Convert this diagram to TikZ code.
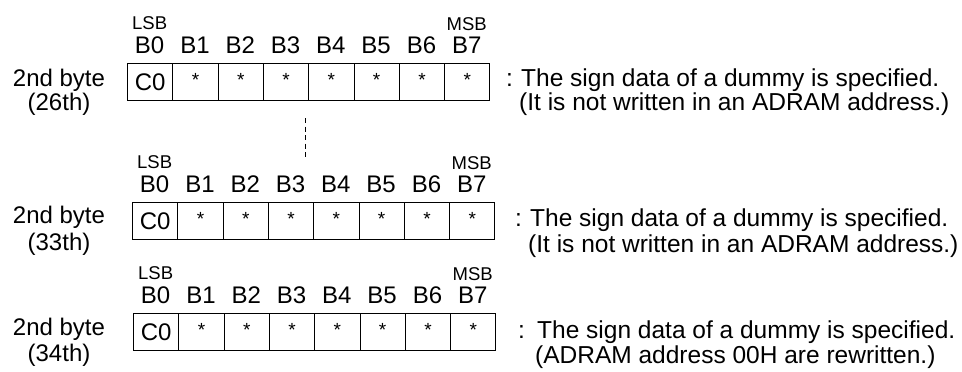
\documentclass[tikz,border=0pt]{standalone}
\usepackage{fontspec}
\setmainfont{Liberation Sans}
\usetikzlibrary{positioning}
\tikzset{
  cell/.style={draw, line width=1pt, minimum width=45.3pt, minimum height=37pt, inner sep=0pt, anchor=north west, font=\fontsize{24}{24}\selectfont},
  bitlbl/.style={inner sep=0pt, font=\fontsize{24}{24}\selectfont},
  endlbl/.style={inner sep=0pt, font=\fontsize{18.5}{18.5}\selectfont},
  bytelbl/.style={inner sep=0pt, align=center},
  desc/.style={inner sep=0pt, anchor=west, font=\fontsize{24.5}{24.5}\selectfont},
  dashline/.style={line width=1pt, dash pattern=on 5pt off 3.5pt}
}
\begin{document}
\begin{tikzpicture}[x=1pt,y=-1pt]
\useasboundingbox (0,0) rectangle (962,372);
% three byte rows
\foreach \r/\xl/\yt/\nth/\sk in {1/127/63/26th/24,2/132/202/33th/27,3/133/313/34th/26}{
  \foreach \i in {0,...,7}{
    \node[cell] (c\r\i) at ({\xl+\i*45.3},\yt) {\ifnum\i=0 C0\else\raisebox{4pt}{\fontsize{19}{19}\selectfont *}\fi};
    \node[bitlbl] (b\r\i) at ({\xl+(\i+0.5)*45.3},\yt-18) {B\i};
  }
  \node[endlbl, above=6pt of b\r0] (lsb\r) {LSB};
  \node[endlbl, above=6pt of b\r7] (msb\r) {MSB};
  \node[bytelbl, font=\fontsize{24}{\sk}\selectfont] (n\r) at (59,\yt+29) {2nd byte\\(\nth)};
}
% notes
\node[desc] (col1) at (506,80) {:};
\node[desc] (d1a) at (521,80) {The sign data of a dummy is specified.};
\node[desc] (d1b) at (519,104.5) {(It is not written in an ADRAM address.)};
\node[desc] (col2) at (515,220) {:};
\node[desc] (d2a) at (530,220) {The sign data of a dummy is specified.};
\node[desc] (d2b) at (528,246) {(It is not written in an ADRAM address.)};
\node[desc] (col3) at (518,332) {:};
\node[desc] (d3a) at (537,332) {The sign data of a dummy is specified.};
\node[desc] (d3b) at (535,357) {(ADRAM address 00H are rewritten.)};
% omitted rows
\coordinate (dtop) at (305,118);
\coordinate (dbot) at (305,159);
\draw[dashline] (dtop) -- (dbot);
\end{tikzpicture}
\end{document}
